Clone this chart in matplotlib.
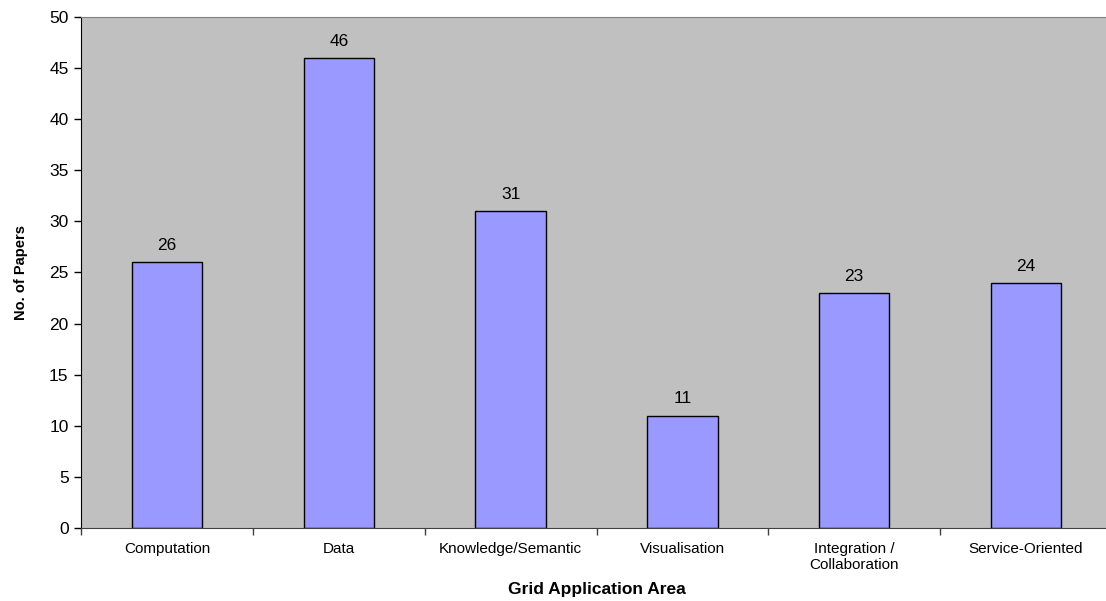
import numpy as np
from matplotlib import pyplot as plt

plt.rcParams['font.family'] = ['Liberation Sans', 'DejaVu Sans']

# data
categories = ["Computation", "Data", "Knowledge/Semantic", "Visualisation",
              "Integration /\nCollaboration", "Service-Oriented"]
papers = [26, 46, 31, 11, 23, 24]

fig = plt.figure(figsize=(11.06, 6.01), dpi=100, facecolor="white")
# plot area runs a little past the right edge of the image, like the original
ax = fig.add_axes([0.0733, 0.1215, 0.9321, 0.8502])
ax.set_facecolor("#C0C0C0")

x = np.arange(len(categories))
ax.bar(x, papers, width=0.41, color="#9999FF", edgecolor="black", linewidth=1.0, zorder=2)
for xi, v in zip(x, papers):
    ax.text(xi, v + 0.9, str(v), ha="center", va="bottom", fontsize=12.5)

ax.set_xlim(-0.5, len(categories) - 0.5)
ax.set_ylim(0, 50)
ax.set_yticks(np.arange(0, 51, 5))
ax.tick_params(axis="y", labelsize=12.5, length=5, direction="out", width=1, pad=4)

ax.set_xticks(x)
ax.set_xticklabels(categories, fontsize=11, linespacing=1.2)
ax.tick_params(axis="x", which="major", length=0, pad=10)
ax.set_xticks(np.arange(-0.5, len(categories), 1.0), minor=True)
ax.tick_params(axis="x", which="minor", length=5, width=1, color="#404040")

ax.spines["right"].set_visible(False)
ax.spines["top"].set_color("#808080")
ax.spines["left"].set_color("black")
ax.spines["bottom"].set_color("#404040")

ax.set_ylabel("No. of Papers", fontsize=10.5, fontweight="bold", labelpad=15)
ax.set_xlabel("Grid Application Area", fontsize=12.5, fontweight="bold")
ax.xaxis.set_label_coords(0.5, -0.106)

plt.savefig("out.png", dpi=100)
